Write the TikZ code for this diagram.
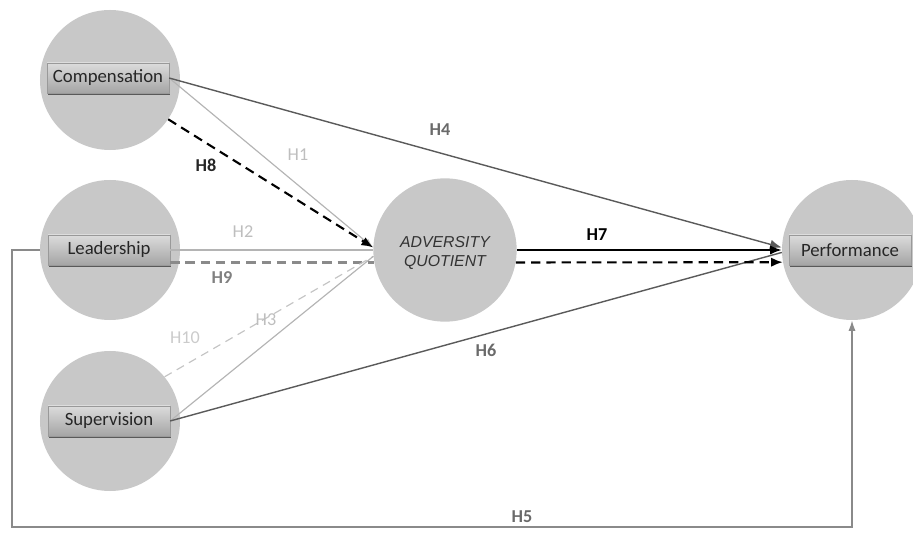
\documentclass[tikz,border=0pt]{standalone}
\usepackage{fontspec}
\setmainfont{Carlito}
\newfontfamily\aqfont{Liberation Sans}
\usetikzlibrary{positioning,shapes,arrows.meta,calc,shadows}
\definecolor{circfill}{HTML}{C8C8C8}
\definecolor{darkline}{HTML}{5A5A5A}
\definecolor{lightline}{HTML}{B4B4B4}
\definecolor{midline}{HTML}{8A8A8A}
\definecolor{paledash}{HTML}{C4C4C4}
\definecolor{boxtop}{HTML}{DCDCDC}
\definecolor{boxbottom}{HTML}{A4A4A4}
\definecolor{labelgray}{HTML}{6A6A6A}
\definecolor{labellight}{HTML}{BEBEBE}

\begin{document}
\begin{tikzpicture}[x=0.03cm, y=-0.03cm,
    construct/.style={circle, fill=circfill, minimum size=4.2cm, inner sep=0pt},
    varbox/.style={rectangle, draw=gray!80, top color=boxtop, bottom color=boxbottom,
                   minimum width=104pt, minimum height=26pt, inner sep=2pt,
                   font=\fontsize{16}{18}\selectfont, text=black!85,
                   drop shadow={shadow xshift=1pt, shadow yshift=-1.5pt, fill=black!65, opacity=1}},
    hlab/.style={font=\fontsize{15.5}{17}\selectfont\bfseries, text=labelgray},
    hlight/.style={font=\fontsize{15.5}{17}\selectfont, text=labellight},
    tip/.style={-{Latex[length=10pt,width=8pt]}}]
  \useasboundingbox (0,0) rectangle (913,540);

  % constructs
  \node[construct] (ccomp) at (110,80) {};
  \node[construct] (clead) at (110,250) {};
  \node[construct] (csup) at (110,421) {};
  \node[construct, minimum size=4.3cm] (aq) at (445,250) {};
  \node[construct] (cperf) at (852,250) {};

  % variable boxes
  \node[varbox] (comp) at (108,78) {Compensation};
  \node[varbox] (lead) at (109,250) {Leadership};
  \node[varbox] (sup) at (109,421) {Supervision};
  \node[varbox] (perf) at (850,250) {Performance};
  \node[font=\aqfont\itshape\fontsize{13.5}{16}\selectfont, text=black!80, align=center]
       (aqtext) at (445,253) {ADVERSITY\\QUOTIENT};

  % paths into adversity quotient
  \draw[lightline, line width=1pt, -{Latex[length=8pt,width=6pt]}] (comp.east) -- (aq.178);
  \draw[black, line width=1.8pt, dash pattern=on 8pt off 5pt, tip] (ccomp.-34) -- (aq.178);
  \draw[lightline, line width=1pt] (lead.east) -- (aq.west);
  \draw[midline, line width=1.8pt, dash pattern=on 8pt off 5pt] (lead.east |- aq.190) -- (aq.190);
  \draw[paledash, line width=1pt, dash pattern=on 7pt off 5pt] (csup.39) -- (aq.185);
  \draw[lightline, line width=1pt] (sup.east) -- (aq.185);

  % paths into performance
  \draw[darkline, line width=1.2pt, tip] (comp.east) -- (cperf.178);
  \draw[darkline, line width=1.2pt] (sup.east) -- (cperf.182);
  \draw[black, line width=1.8pt, tip] (aq.east) -- (cperf.west);
  \draw[black, line width=1.8pt, dash pattern=on 8pt off 5pt, tip] (aq.-10) -- (cperf.190);

  % direct leadership path
  \coordinate (h5corner) at (12,527);
  \draw[midline, line width=1.3pt, -{Latex[length=9pt,width=6pt]}]
       (clead.west) -| (h5corner) -| (cperf.south);

  % labels
  \node[hlab] (h4) at (440,130) {H4};
  \node[hlab, text=black!85] (h8) at (206,165) {H8};
  \node[hlight] (h1) at (298,155) {H1};
  \node[hlight] (h2) at (243,232) {H2};
  \node[hlab, text=gray] (h9) at (222,278) {H9};
  \node[hlight, text=labellight!80] (h10) at (185,338) {H10};
  \node[hlight] (h3) at (266,320) {H3};
  \node[hlab, text=black] (h7) at (597,235) {H7};
  \node[hlab] (h6) at (486,350) {H6};
  \node[hlab] (h5) at (522,517) {H5};
\end{tikzpicture}
\end{document}
